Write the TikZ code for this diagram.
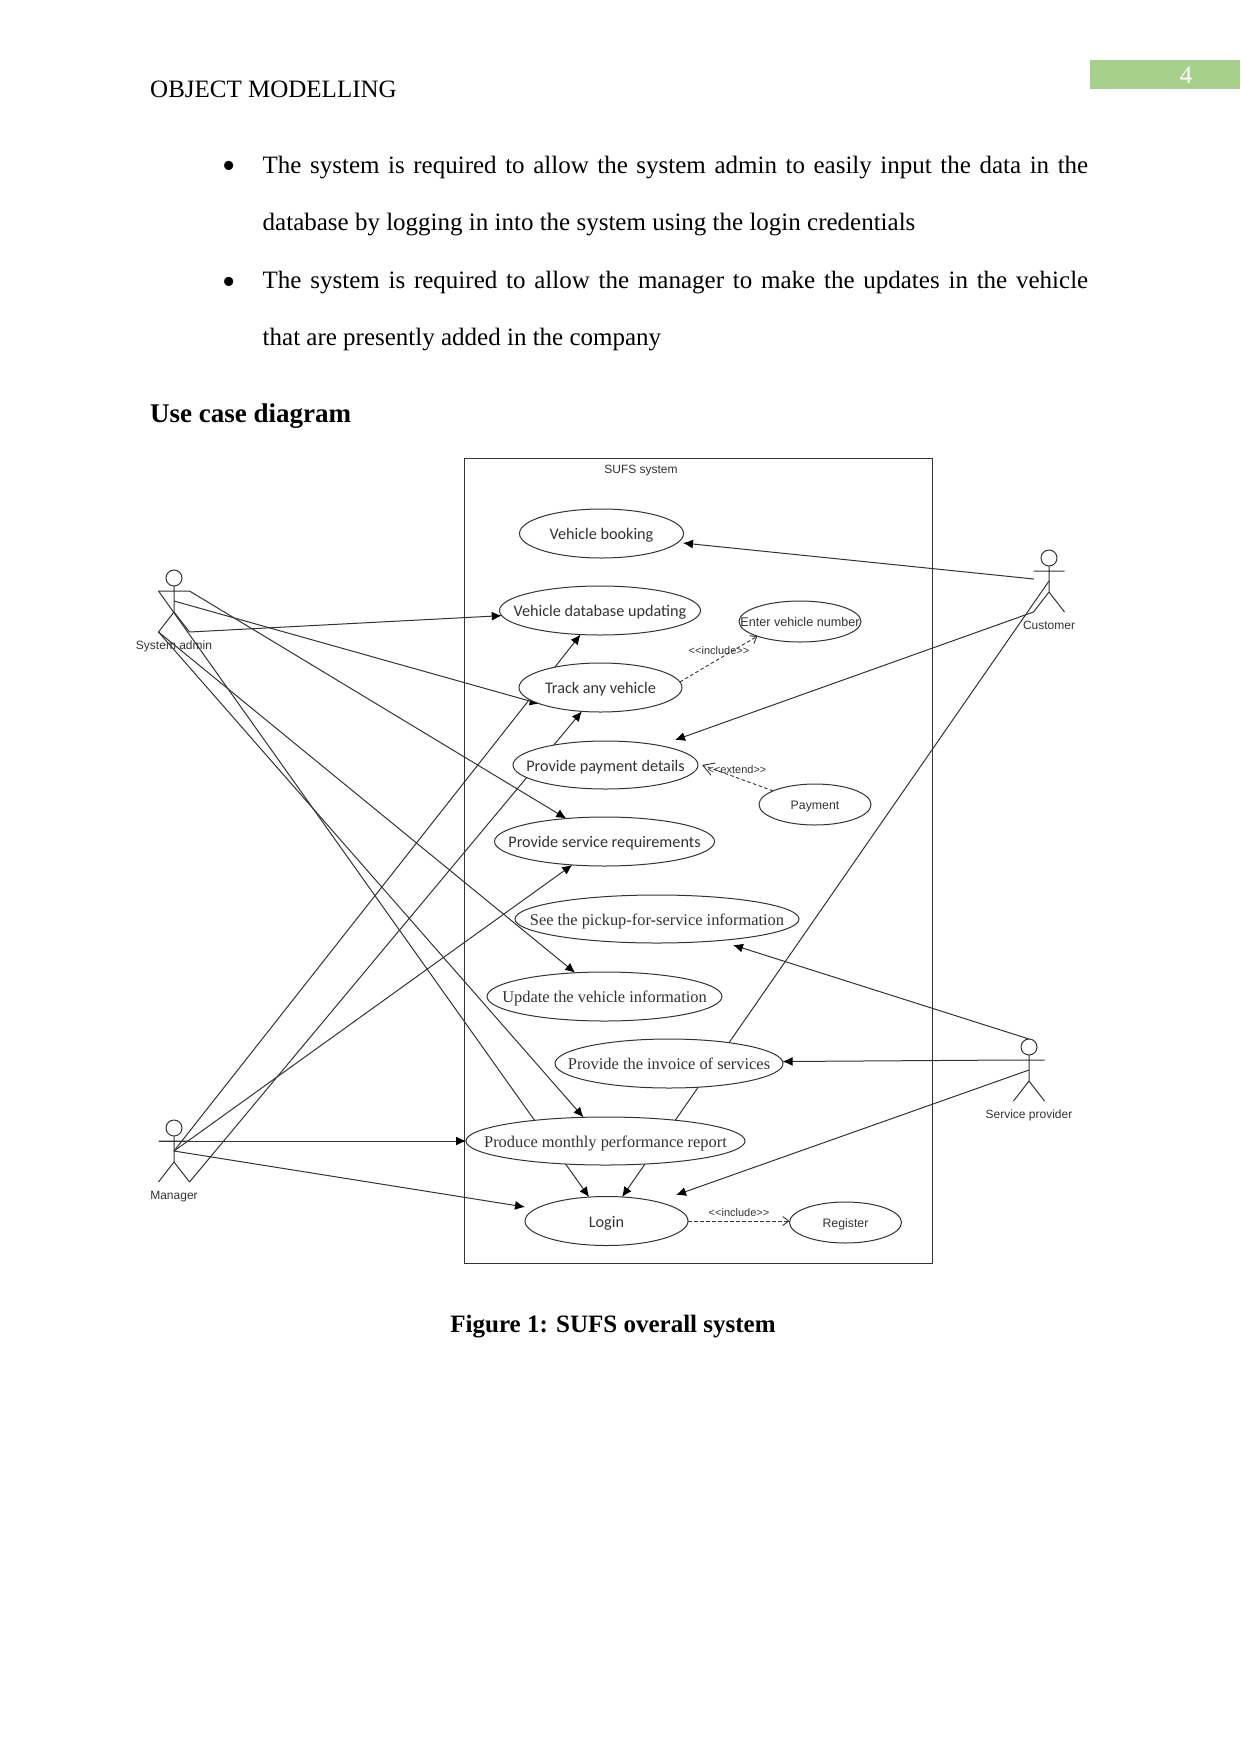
\documentclass[tikz,border=0pt]{standalone}
\usepackage{fontspec}
\setmainfont{Liberation Serif}
\newfontfamily\ucsans{Carlito}
\newfontfamily\ucsmall{Liberation Sans}
\usetikzlibrary{shapes.geometric,arrows.meta,backgrounds}
\definecolor{ink}{HTML}{333333}
\definecolor{pagegreen}{HTML}{A8D08D}
\newcommand{\fs}[1]{\fontsize{#1}{#1}\selectfont}
\tikzset{
  x=1pt,y=-1pt,
  usecase/.style={ellipse,draw=ink,fill=white,line width=1pt,inner sep=0pt,outer sep=0pt,text=ink},
  actorhead/.style={circle,draw=ink,fill=white,line width=1pt,minimum size=16pt,inner sep=0pt,outer sep=0pt},
  actorline/.style={draw=ink,line width=1pt},
  assoc/.style={draw=ink,line width=1pt,-{Latex[length=10pt,width=9pt,color=black]}},
  dep/.style={draw=ink,line width=.9pt,dashed,dash pattern=on 3.5pt off 2.5pt,-{Straight Barb[length=6pt,width=9pt]}},
  ext/.style={draw=ink,line width=.9pt,dashed,dash pattern=on 3.5pt off 2.5pt,-{Straight Barb[length=11pt,width=13pt]}},
  small/.style={text=ink,font=\ucsmall\fs{12},inner sep=0pt},
  stereo/.style={text=ink,font=\ucsmall\fs{11},inner sep=0pt},
  bodyline/.style={anchor=base west,inner sep=0pt,font=\fs{25}},
  bullet/.style={anchor=center,inner sep=0pt,font=\fs{38}},
}
% name, cx, cy, width, height, font, text
\newcommand{\usecase}[7]{\node[usecase,minimum width=#4pt,minimum height=#5pt] (#1) at (#2,#3) {\smash{\makebox[0pt][c]{#6\raisebox{-.38em}{#7}}}};}
% name, head x, head y
\newcommand{\actor}[3]{%
  \node[actorhead] (#1) at (#2,#3) {};
  \coordinate (#1-armL) at (#2-15.5,#3+13);
  \coordinate (#1-armR) at (#2+15.5,#3+13);
  \coordinate (#1-chest) at (#2,#3+23);
  \coordinate (#1-hip) at (#2,#3+34);
  \coordinate (#1-footL) at (#2-15.5,#3+54);
  \coordinate (#1-footR) at (#2+15.5,#3+54);
  \draw[actorline] (#1.south) -- (#1-hip) -- (#1-footL) (#1-hip) -- (#1-footR) (#1-armL) -- (#1-armR);
}
\begin{document}
\begin{tikzpicture}
\useasboundingbox (0,0) rectangle (1241,1754);

% page furniture
\node[bodyline] (header) at (150,97) {OBJECT MODELLING};
\fill[pagegreen] (1090,60) rectangle (1240,89);
\node[inner sep=0pt,text=white,font=\fs{25}] (pagenum) at (1186,75) {4};

\node[bullet] (b1) at (229,170) {•};
\node[bodyline] (l1) at (262.5,173) {\makebox[825.5pt][s]{The system is required to allow the system admin to easily input the data in the}};
\node[bodyline] (l2) at (262.5,230) {database by logging in into the system using the login credentials};
\node[bullet] (b2) at (229,285.5) {•};
\node[bodyline] (l3) at (262.5,288) {\makebox[825.5pt][s]{The system is required to allow the manager to make the updates in the vehicle}};
\node[bodyline] (l4) at (262.5,345) {that are presently added in the company};
\node[bodyline,font=\bfseries\fs{27}] (heading) at (150,422) {Use case diagram};
\node[anchor=base,inner sep=0pt,font=\bfseries\fs{25}] (caption) at (613,1332) {Figure 1: SUFS overall system};

% use cases
\usecase{vb}{601.5}{533.5}{164}{49}{\ucsans\fs{16.2}}{Vehicle booking}
\usecase{db}{600}{610.5}{201}{49}{\ucsans\fs{16.2}}{Vehicle database updating}
\usecase{track}{600.5}{687.5}{163}{49}{\ucsans\fs{16.2}}{Track any vehicle}
\usecase{pay}{605.5}{765}{185}{48}{\ucsans\fs{16.2}}{Provide payment details}
\usecase{service}{604.5}{841.5}{220}{49}{\ucsans\fs{16.2}}{Provide service requirements}
\usecase{see}{657}{919}{284}{48}{\fs{16.4}}{See the pickup-for-service information}
\usecase{update}{604.5}{996.5}{235}{49}{\fs{16.4}}{Update the vehicle information}
\usecase{invoice}{669}{1063.5}{228}{49}{\fs{16.4}}{Provide the invoice of services}
\usecase{produce}{605.5}{1141}{279}{48}{\fs{16.4}}{Produce monthly performance report}
\usecase{login}{606.5}{1221}{163}{49}{\ucsans\fs{16.2}}{Login}
\usecase{register}{845.5}{1222.5}{112}{41}{\ucsmall\fs{12.3}}{Register}
\usecase{enter}{800}{621.5}{122}{41}{\ucsmall\fs{12.6}}{Enter vehicle number}
\usecase{payment}{815}{804.5}{112}{41}{\ucsmall\fs{12.3}}{Payment}

% actors
\actor{admin}{174}{578}
\actor{manager}{174}{1128}
\actor{customer}{1049}{558}
\actor{provider}{1029}{1047}
\node[small] (adminlabel) at (174,646) {System admin};
\node[small] (managerlabel) at (174,1196.5) {Manager};
\node[small] (customerlabel) at (1049,625) {Customer};
\node[small] (providerlabel) at (1029,1115) {Service provider};

\node[small] (systemlabel) at (641,471) {SUFS system};
\node[stereo] (inc1) at (719,650.5) {<<include>>};
\node[stereo] (extl) at (737,769.5) {<<extend>>};
\node[stereo] (inc2) at (739,1212.5) {<<include>>};

% free ends that stop short of the ellipses
\coordinate (vbCust) at (683,543);
\coordinate (payCust) at (675,740);
\coordinate (seeProv) at (733,945);
\coordinate (loginMgr) at (525,1207);
\coordinate (loginProv) at (676,1195);
\coordinate (customerSide) at (1034,579);
\coordinate (adminChest) at (174,601);
\coordinate (managerChest) at (174,1151);
\coordinate (providerWaist) at (1029,1070);
\coordinate (payExt) at (702,765);

\begin{pgfonlayer}{background}
\draw[draw=ink,line width=1pt] (464,458) rectangle (932,1263);
% system admin
\draw[assoc] (admin-footR) -- (db.183);
\draw[assoc] (adminChest) -- (track.195);
\draw[assoc] (admin-armR) -- (service.149);
\draw[assoc] (admin-footL) -- (update.141);
\draw[assoc] (admin-armL) -- (login.126);
\draw[assoc] (admin-footL) -- (produce.133);
% manager
\draw[assoc] (managerChest) -- (db.231);
\draw[assoc] (manager-footR) -- (track.232);
\draw[assoc] (managerChest) -- (service.216);
\draw[assoc] (manager-armL) -- (produce.west);
\draw[assoc] (managerChest) -- (loginMgr);
% customer
\draw[assoc] (customerSide) -- (vbCust);
\draw[assoc] (customer-footL) -- (payCust);
\draw[assoc] (customer-chest) -- (login.57);
% service provider
\draw[assoc] (provider.north) -- (seeProv);
\draw[assoc] (provider-armL) -- (invoice.1);
\draw[assoc] (providerWaist) -- (loginProv);
% dependencies
\draw[dep] (track.4) -- (enter.199);
\draw[ext] (payment.162) -- (payExt);
\draw[dep] (login.east) -- (register.west |- login.east);
\end{pgfonlayer}
\end{tikzpicture}
\end{document}
